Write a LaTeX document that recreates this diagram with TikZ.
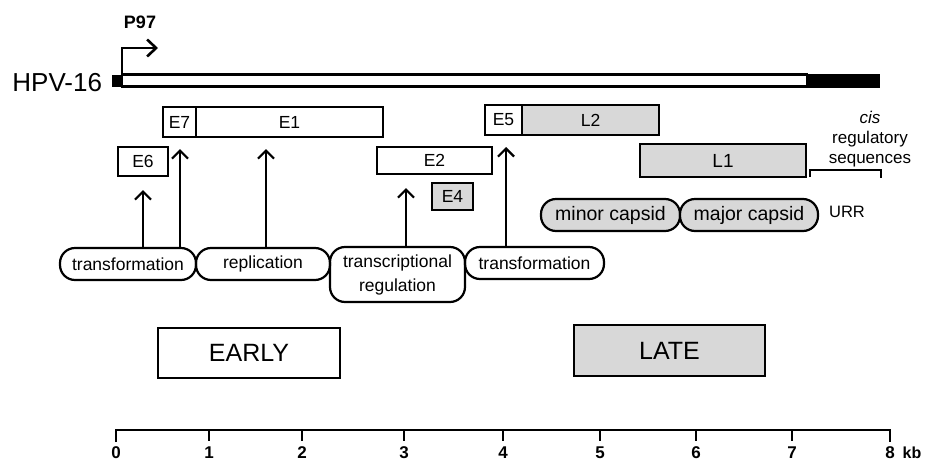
\documentclass[tikz,border=0pt]{standalone}
\usepackage{fontspec}
\setmainfont{Liberation Sans}
\usetikzlibrary{arrows.meta}
\definecolor{boxgrey}{HTML}{D8D8D8}
\tikzset{
  gene/.style={draw, line width=2.2pt, inner sep=0pt, outer sep=0pt, font=\fontsize{17.5}{20}\selectfont},
  greyfill/.style={fill=boxgrey},
  func/.style={draw, line width=2.2pt, rounded corners=15pt, inner sep=0pt, outer sep=0pt, align=center, font=\fontsize{17.5}{24}\selectfont},
  capsid/.style={func, fill=boxgrey, font=\fontsize{19.5}{24}\selectfont},
  phase/.style={draw, line width=2.2pt, inner sep=0pt, outer sep=0pt, font=\fontsize{25}{30}\selectfont},
  arr/.style={line width=2.2pt, -{Straight Barb[length=8pt,width=16pt]}, shorten >=12pt},
  lbl/.style={inner sep=0pt, outer sep=0pt},
}
\begin{document}
\begin{tikzpicture}[x=1pt,y=-1pt]
\useasboundingbox (0,0) rectangle (927,464);

% genome bar
\node[draw, line width=2.2pt, minimum width=685pt, minimum height=12pt, anchor=north west, inner sep=0pt, outer sep=0pt] (bar) at (122,74.5) {};
\node[fill=black, minimum width=73pt, minimum height=14pt, anchor=north west, inner sep=0pt, outer sep=0pt] (barend) at (807,73.5) {};
\node[fill=black, minimum width=10pt, minimum height=12pt, anchor=east, inner sep=0pt, outer sep=0pt] (sq) at (bar.west) {};
\node[lbl, anchor=east, font=\fontsize{26}{30}\selectfont] (hpv) at (102,83) {HPV-16};

% promoter
\coordinate (tss) at (158,48);
\draw[line width=2.6pt, -{Straight Barb[length=9pt,width=17pt]}] (bar.north west) |- (tss);
\node[lbl, font=\bfseries\fontsize{18}{20}\selectfont] (p97) at (140,22) {P97};

% early genes
\node[gene, minimum width=33pt, minimum height=30pt] (e7) at (179.5,122) {E7};
\node[gene, minimum width=187pt, minimum height=30pt] (e1) at (289.5,122) {E1};
\node[gene, minimum width=50pt, minimum height=29pt] (e6) at (143,161.5) {E6};
\node[gene, minimum width=115pt, minimum height=27pt] (e2) at (434.5,160.5) {E2};
\node[gene, greyfill, minimum width=41pt, minimum height=27pt] (e4) at (452.5,196.5) {E4};
\node[gene, minimum width=37pt, minimum height=30pt] (e5) at (503.5,120) {E5};

% late genes
\node[gene, greyfill, minimum width=137pt, minimum height=30pt] (l2) at (590.5,120) {L2};
\node[gene, greyfill, minimum width=166pt, minimum height=33pt, font=\fontsize{19}{22}\selectfont] (l1) at (723,160.5) {L1};

% URR bracket and labels
\coordinate (brk) at (881,178);
\draw[line width=2.2pt] ([xshift=4pt]l1.south east) |- ([yshift=8pt]brk) -- (brk);
\node[lbl, align=center, font=\fontsize{17}{20}\selectfont] (cis) at (870,139) {\textit{cis}\\regulatory\\sequences};
\node[lbl, font=\fontsize{16.5}{20}\selectfont] (urr) at (847,212) {URR};

% functions
\node[func, minimum width=136pt, minimum height=32pt] (tr1) at (128,264) {transformation};
\node[func, minimum width=134pt, minimum height=32pt] (rep) at (263,264) {replication};
\node[func, minimum width=135pt, minimum height=55pt] (treg) at (397.5,274.5) {transcriptional\\regulation};
\node[func, minimum width=139pt, minimum height=32pt] (tr2) at (534.5,263) {transformation};
\node[capsid, minimum width=139pt, minimum height=32pt] (minor) at (610.5,215) {minor capsid};
\node[capsid, minimum width=138pt, minimum height=32pt] (major) at (749,215) {major capsid};

% arrows
\draw[arr, shorten >=14pt] (e6.south |- tr1.north) -- (e6.south);
\draw[arr] ([xshift=0.5pt]e7.south |- tr1.north) -- ([xshift=0.5pt]e7.south);
\draw[arr] ([xshift=3pt]rep.north) -- ([xshift=3pt]rep.north |- e1.south);
\draw[arr, shorten >=14pt] ([xshift=8.5pt]treg.north) -- ([xshift=8.5pt]treg.north |- e2.south);
\draw[arr] ([xshift=2.5pt]e5.south |- tr2.north) -- ([xshift=2.5pt]e5.south);

% phases
\node[phase, minimum width=182pt, minimum height=50pt] (early) at (249,353) {EARLY};
\node[phase, greyfill, minimum width=191pt, minimum height=51pt] (late) at (669.5,350.5) {LATE};

% scale
\draw[line width=2.2pt] (116,442) |- (890,430) -- (890,442);
\foreach \i/\x in {1/209,2/302,3/404,4/503,5/600,6/696,7/792}{
  \draw[line width=2.2pt] (\x,430) -- (\x,441);
}
\foreach \i/\x in {0/116,1/209,2/302,3/404,4/503,5/600,6/696,7/792,8/890}{
  \node[lbl, font=\bfseries\fontsize{17}{20}\selectfont] (t\i) at (\x,453) {\i};
}
\node[lbl, font=\bfseries\fontsize{16}{20}\selectfont] (kb) at (912,453) {kb};
\end{tikzpicture}
\end{document}
